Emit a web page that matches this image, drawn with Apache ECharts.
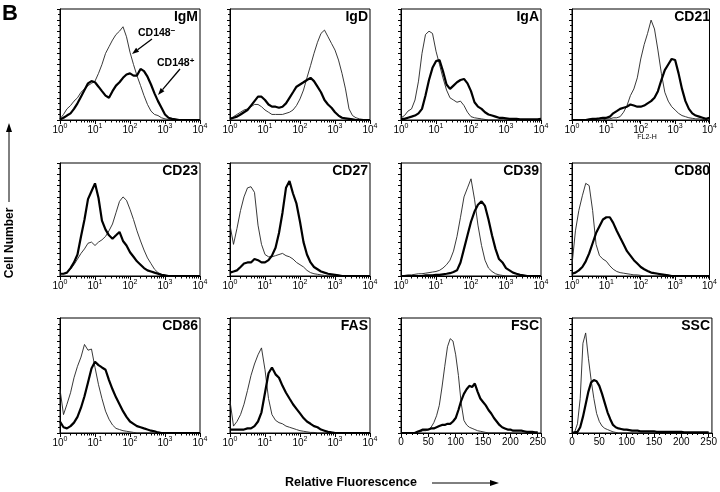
<!DOCTYPE html>
<html><head><meta charset="utf-8">
<script src="https://cdn.jsdelivr.net/npm/echarts@6/dist/echarts.min.js"></script>
<style>html,body{margin:0;padding:0;background:#fff}#c{width:720px;height:492px}</style>
</head><body><div id="c"></div>
<script>
// Fluorescence bins (log panels) and channel bins (linear panels)
const logBins = [1,1.26,1.58,2,2.51,3.16,3.98,5.01,6.31,7.94,10,12.6,15.8,20,25.1,31.6,39.8,50.1,63.1,79.4,100,126,158,200,251,316,398,501,631,794,1000,1259,1585,1995,2512,3162,3981,5012,6310,7943,10000];
const linBins = [0,5,10,15,20,25,30,35,40,45,50,55,60,65,70,75,80,85,90,95,100,105,110,115,120,125,130,135,140,145,150,155,160,165,170,175,180,185,190,195,200,205,210,215,220,225,230,235,240,245,250];
const panelNames = ['IgM','IgD','IgA','CD21','CD23','CD27','CD39','CD80','CD86','FAS','FSC','SSC'];
const logTicks = [1,10,100,1000,10000];
const linTicks = [0,50,100,150,200,250];

// thin = CD148-, thick = CD148+  (cell number, % of panel height)
const igmThin  = [1,5,10,13,17,20,25,28,31,33, 35,42,50,60,66,72,77,80,84,75, 61,50,40,31,22,14,8,5,4,2, 1,0.5,0,0,0,0,0,0,0,0,0];
const igmThick = [0.5,2,4,6,10,15,21,27,33,35, 34,30,26,22,20,26,31,34,38,41, 42,40,40,46,44,39,32,24,17,11, 5,2,1,0.5,0,0,0,0,0,0,0];
const igdThin  = [1,3,5,7,9,10,12,14,14,12, 9,7,5,5,5,5,6,7,9,13, 19,27,38,49,60,70,78,81,75,69, 63,54,42,28,10,4,2,1,0.5,0,0];
const igdThick = [1,2,3,5,7,9,13,17,21,21, 18,14,12,12,11,12,15,20,25,30, 32,34,36,38,35,30,25,18,14,11, 7,4,2,1.5,1,0.5,0,0,0,0,0];
const igaThin  = [2,4,8,10,18,35,60,77,80,78, 62,50,38,27,20,18,16,17,13,7, 3,2,1.5,1,0.5,0,0,0,0,0, 0,0,0,0,0,0,0,0,0,0,0];
const igaThick = [1,1,2,3,4,6,10,22,36,47, 53,54,44,32,28,31,34,36,37,33, 26,16,12,10,7,5,4,3,2,2, 1.5,1,1,1,0.5,0.5,0.5,0.5,0.5,0.5,1];
const cd21Thin  = [0,0,0,0,0,0,0,0,0,0, 1,1,2,2,3,7,13,22,28,38, 55,68,78,90,82,63,42,25,17,12, 9,6,4,3,2,1.5,1,1,0.5,0,0];
const cd21Thick = [0,0,0,0,0,0.5,1,1,1.5,2, 2,3,6,8,10,11,12,14,13,12, 12,13,15,17,20,26,36,45,50,55, 54,42,28,17,10,6,4,3,2,1,2];
const cd23Thin  = [2,2,3,6,10,15,20,24,29,30, 27,30,32,35,40,46,56,66,70,67, 59,50,40,31,23,16,11,6,3,1.5, 0.5,0,0,0,0,0,0,0,0,0,0];
const cd23Thick = [2,2,3,7,12,19,35,50,68,75, 82,69,49,41,36,33,36,39,31,27, 21,17,13,10,7,5,4,3,2,1, 0.5,0,0,0,0,0,0,0,0,0,0];
const cd27Thin  = [45,28,42,58,70,78,79,74,45,28, 19,17,17,18,19,20,18,17,15,12, 10,8,5,3,2,1.5,1,0.5,0,0, 0,0,0,0,0,0,0,0,0,0,0];
const cd27Thick = [3,4,5,8,11,12,12,15,14,12, 12,14,18,25,38,56,78,84,73,64, 48,30,19,12,8,6,4,3,2,1.5, 1,0.5,0,0,0,0,0,0,0,0,0];
const cd39Thin  = [0,0.5,1,1,1.5,2,2,2.5,3,3.5, 4,5,7,10,14,22,35,52,70,78, 86,68,45,27,14,7,4,2,1,0.5, 0,0,0,0,0,0,0,0,0,0,0];
const cd39Thick = [0,0,0,0,0,0,0,0.5,0.5,0.5, 1,1,1.5,2,2.5,3.5,5,12,24,36, 48,57,63,66,62,50,36,24,15,12, 7,5,3,2,1,0.5,0,0,0,0,0];
const cd80Thin  = [10,40,58,71,82,80,58,28,18,15, 13,9,6,4,3,2.5,2,1.5,1,1, 0.5,0,0,0,0,0,0,0,0,0, 0,0,0,0,0,0,0,0,0,0,0];
const cd80Thick = [2,3,5,8,13,20,29,38,44,50, 52,52,47,40,34,28,22,18,14,11, 8,6,4.5,3,2.5,2,1.5,1,0.5,0, 0,0,0,0,0,0,0,0,0,0,0];
const cd86Thin  = [38,16,25,35,48,58,66,77,72,73, 57,42,30,19,12,7,4,3,2,1.5, 1,0.5,0,0,0,0,0,0,0,0, 0,0,0,0,0,0,0,0,0,0,0];
const cd86Thick = [10,5,4,6,9,14,22,32,44,56, 62,59,57,55,46,38,31,25,19,14, 10,8,6,5,4,3,2,1.5,0.5,0, 0,0,0,0,0,0,0,0,0,0,0];
const fasThin  = [28,6,10,16,25,37,50,60,68,74, 55,30,16,11,9,8,6,5,4,3, 2,1.5,1,0.5,0.5,0,0,0,0,0, 0,0,0,0,0,0,0,0,0,0,0];
const fasThick = [3,3,3,3,3,4,4,6,10,18, 35,52,57,51,48,41,35,30,25,21, 17,13,10,8,6,5,3,2,1,0.5, 0,0,0,0,0,0,0,0,0,0,0];
const fscThin  = [0,0,0,0,0,0,1,1,2,2, 3,5,9,15,24,40,58,75,82,80, 68,50,26,11,7,5,4,3,2,1.5, 1,0.5,0,0,0,0,0,0,0,0, 0,0,0,0,0,0,0,0,0,0,0];
const fscThick = [0,0,0,0,0,0,1,2,3,3, 3,4,4,5,6,7,7,8,8,10, 13,20,28,34,38,41,40,43,36,30, 27,24,20,17,13,10,7,5,4,3, 3,2,2,2,2,1.5,1,1,1,0.5,0.5];
const sscThin  = [0,1,8,30,78,87,65,46,30,17, 10,6,4,3,2,1,0.5,0,0,0, 0,0,0,0,0,0,0,0,0,0, 0,0,0,0,0,0,0,0,0,0, 0,0,0,0,0,0,0,0,0,0,0];
const sscThick = [0,0.5,1,5,14,25,36,44,46,45, 41,34,26,18,12,7,5,4,3.5,3, 3,2.5,2,2,2,1.5,1.5,1.5,1.5,1.5, 1.5,1,1,1,1,1,1,1,1,1, 1,0.5,0.5,0.5,0.5,0.5,0.5,0.5,0.5,0.5,0.5];

const thinSets  = [igmThin,igdThin,igaThin,cd21Thin,cd23Thin,cd27Thin,cd39Thin,cd80Thin,cd86Thin,fasThin,fscThin,sscThin];
const thickSets = [igmThick,igdThick,igaThick,cd21Thick,cd23Thick,cd27Thick,cd39Thick,cd80Thick,cd86Thick,fasThick,fscThick,sscThick];
const linearPanels = ['FSC','SSC'];

// log-decade minor tick positions (2..9 x 10^k)
const logMinor = [];
for (let k = 0; k < 4; k++) for (let m = 2; m <= 9; m++) logMinor.push(m * Math.pow(10, k));

const FONT = '"Liberation Sans", Arial, Helvetica, sans-serif';
const colLeft = [60, 230, 401, 572];
const colW = 140;
const rowTop = [9, 163, 318];
const rowH = [111, 113, 115];

const grids = [], xAxes = [], yAxes = [], series = [], titles = [];
panelNames.forEach((name, i) => {
  const r = Math.floor(i / 4), c = i % 4;
  const isLin = linearPanels.includes(name);
  const bins = isLin ? linBins : logBins;
  grids.push({left: colLeft[c], top: rowTop[r], width: colW, height: rowH[r],
    show: true, borderColor: '#000', borderWidth: 1, backgroundColor: 'transparent', containLabel: false});
  const mainIdx = xAxes.length;
  if (isLin) {
    xAxes.push({gridIndex: i, type: 'value', min: linTicks[0], max: 256, interval: 50,
      axisLine: {lineStyle: {color: '#000', width: 1}},
      axisTick: {show: true, length: 4, lineStyle: {color: '#000'}},
      minorTick: {show: true, splitNumber: 5, length: 2, lineStyle: {color: '#000'}},
      splitLine: {show: false},
      axisLabel: {show: true, showMaxLabel: false, color: '#000', fontFamily: FONT, fontSize: 10, margin: 4,
        formatter: v => linTicks.includes(v) ? String(v) : ''}});
  } else {
    xAxes.push({gridIndex: i, type: 'log', logBase: 10, min: logTicks[0], max: logTicks[logTicks.length - 1],
      axisLine: {lineStyle: {color: '#000', width: 1}},
      axisTick: {show: true, length: 4, lineStyle: {color: '#000'}},
      splitLine: {show: false},
      axisLabel: {show: true, color: '#000', margin: 3,
        formatter: v => '{b|10}{s|' + Math.round(Math.log10(v)) + '}',
        rich: {b: {fontFamily: FONT, fontSize: 10, lineHeight: 14, color: '#000'},
               s: {fontFamily: FONT, fontSize: 7, lineHeight: 7, verticalAlign: 'top', color: '#000'}}}});
    // companion axis carrying only log-spaced minor ticks
    xAxes.push({gridIndex: i, type: 'log', logBase: 10, position: 'bottom', min: logTicks[0], max: logTicks[logTicks.length - 1],
      axisLine: {show: false}, splitLine: {show: false}, axisLabel: {show: false},
      axisTick: {show: true, length: 2.5, customValues: logMinor, lineStyle: {color: '#000'}}});
  }
  yAxes.push({gridIndex: i, type: 'value', min: 0, max: 100, interval: 10,
    axisLine: {show: true, lineStyle: {color: '#000', width: 1}},
    axisTick: {show: true, length: 3, lineStyle: {color: '#000'}},
    minorTick: {show: true, splitNumber: 2, length: 2, lineStyle: {color: '#000'}},
    splitLine: {show: false}, axisLabel: {show: false}});
  series.push({type: 'line', name: name + ' CD148-', xAxisIndex: mainIdx, yAxisIndex: i, showSymbol: false, silent: true,
    data: bins.map((x, k) => [x, thinSets[i][k]]),
    lineStyle: {color: '#222', width: 0.9}, animation: false});
  series.push({type: 'line', name: name + ' CD148+', xAxisIndex: mainIdx, yAxisIndex: i, showSymbol: false, silent: true,
    data: bins.map((x, k) => [x, thickSets[i][k]]),
    lineStyle: {color: '#000', width: 2.2}, animation: false});
  titles.push({text: name, right: 720 - (colLeft[c] + colW - 2), top: rowTop[r] + 1, padding: 0,
    textStyle: {fontFamily: FONT, fontSize: 14, fontWeight: 'bold', color: '#000'}});
});

function arrow(x1, y1, x2, y2, len, w, lw) {
  const a = Math.atan2(y2 - y1, x2 - x1);
  const bx = x2 - len * Math.cos(a), by = y2 - len * Math.sin(a);
  const px = -Math.sin(a) * w, py = Math.cos(a) * w;
  return [
    {type: 'line', shape: {x1: x1, y1: y1, x2: bx, y2: by}, style: {stroke: '#000', lineWidth: lw}},
    {type: 'polygon', shape: {points: [[x2, y2], [bx + px, by + py], [bx - px, by - py]]}, style: {fill: '#000'}}
  ];
}

const graphics = [
  {type: 'text', left: 2, top: 3, style: {text: 'B', fontFamily: FONT, fontSize: 22, fontWeight: 'bold', fill: '#000'}},
  {type: 'text', x: 10, y: 243, rotation: Math.PI / 2,
    style: {text: 'Cell Number', fontFamily: FONT, fontSize: 12, fontWeight: 'bold', fill: '#000', align: 'center', verticalAlign: 'middle'}},
  ...arrow(9, 202, 9, 123, 9, 3, 1),
  {type: 'text', x: 351, y: 483,
    style: {text: 'Relative Fluorescence', fontFamily: FONT, fontSize: 12.5, fontWeight: 'bold', fill: '#000', align: 'center', verticalAlign: 'middle'}},
  ...arrow(432, 483, 499, 483, 9, 3, 1),
  {type: 'text', x: 138, y: 33,
    style: {text: '{a|CD148}{s|−}', verticalAlign: 'middle',
      rich: {a: {fontFamily: FONT, fontSize: 10.5, fontWeight: 'bold', lineHeight: 13, fill: '#000'},
             s: {fontFamily: FONT, fontSize: 8, fontWeight: 'bold', lineHeight: 7, verticalAlign: 'top', fill: '#000'}}}},
  ...arrow(152, 39, 132, 54, 7, 2.5, 1.3),
  {type: 'text', x: 157, y: 63,
    style: {text: '{a|CD148}{s|+}', verticalAlign: 'middle',
      rich: {a: {fontFamily: FONT, fontSize: 10.5, fontWeight: 'bold', lineHeight: 13, fill: '#000'},
             s: {fontFamily: FONT, fontSize: 8, fontWeight: 'bold', lineHeight: 7, verticalAlign: 'top', fill: '#000'}}}},
  ...arrow(180, 69, 158, 95, 7, 2.5, 1.3),
  {type: 'text', x: 647, y: 137,
    style: {text: 'FL2-H', fontFamily: FONT, fontSize: 7, fill: '#000', align: 'center', verticalAlign: 'middle'}}
];

const chart = echarts.init(document.getElementById('c'), null, {renderer: 'canvas'});
chart.setOption({
  animation: false,
  backgroundColor: '#fff',
  title: titles,
  grid: grids,
  xAxis: xAxes,
  yAxis: yAxes,
  series: series,
  graphic: graphics
});
</script></body></html>
